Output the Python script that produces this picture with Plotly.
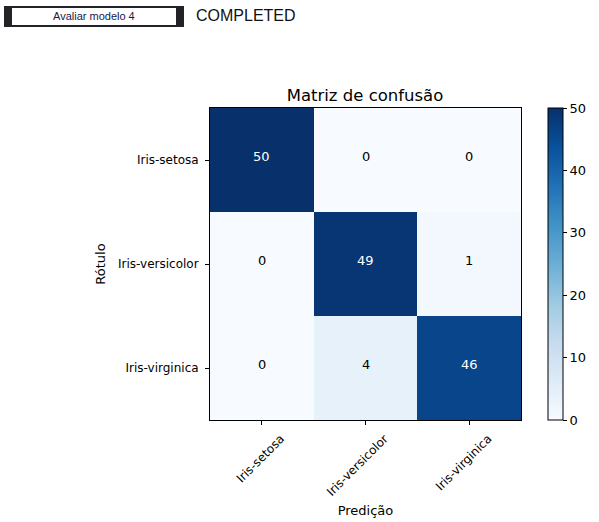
import plotly.graph_objects as go

labels = ["Iris-setosa", "Iris-versicolor", "Iris-virginica"]
matrix = [[50, 0, 0],
          [0, 49, 1],
          [0, 4, 46]]

W, H = 599, 522
L, R, T, B = 210, 521, 108, 420

def px(x):
    return (x - L) / (R - L)

def py(y):
    return (B - y) / (B - T)

fig = go.Figure(go.Heatmap(
    z=matrix, x=labels, y=labels,
    colorscale="Blues", zmin=0, zmax=50,
    xgap=0, ygap=0,
    colorbar=dict(
        thickness=15, len=1, lenmode="fraction", y=0.5, yanchor="middle",
        x=px(548), xanchor="left",
        outlinewidth=1, outlinecolor="black",
        ticks="outside", ticklen=4, tickcolor="black",
        tickvals=[0, 10, 20, 30, 40, 50],
        tickfont=dict(family="DejaVu Sans", size=13, color="black"),
        xpad=0, ypad=0,
    ),
    hoverinfo="skip",
))

annotations = []
thresh = 25
for i, row in enumerate(matrix):
    for j, v in enumerate(row):
        annotations.append(dict(
            x=labels[j], y=labels[i], text=str(v), showarrow=False,
            font=dict(family="DejaVu Sans", size=13,
                      color="white" if v > thresh else "black"),
            yshift=4,
        ))

annotations.append(dict(
    xref="paper", yref="paper", x=px(94), y=py(16.5), text="Avaliar modelo 4",
    showarrow=False, font=dict(family="Liberation Sans", size=11, color="#1a1a4a"),
    xanchor="center", yanchor="middle",
))
annotations.append(dict(
    xref="paper", yref="paper", x=px(194), y=py(16), text="COMPLETED",
    showarrow=False, font=dict(family="Liberation Sans", size=16, color="#111111"),
    xanchor="left", yanchor="middle",
))

shapes = [
    dict(type="rect", xref="paper", yref="paper", x0=px(4), x1=px(184), y0=py(27), y1=py(6),
         fillcolor="#212327", line=dict(width=0), layer="above"),
    dict(type="rect", xref="paper", yref="paper", x0=px(12), x1=px(176), y0=py(25), y1=py(8),
         fillcolor="white", line=dict(width=0), layer="above"),
]

fig.update_layout(
    width=W, height=H,
    margin=dict(l=L, r=W - R, t=T, b=H - B, pad=0, autoexpand=False),
    paper_bgcolor="white", plot_bgcolor="white",
    font=dict(family="DejaVu Sans", size=13, color="black"),
    title=dict(text="Matriz de confusão", xref="paper", x=px(365), xanchor="center",
               y=1 - 95 / H, yanchor="middle",
               font=dict(family="DejaVu Sans", size=16.5, color="black")),
    xaxis=dict(
        automargin=False,
        tickangle=-45, ticks="outside", ticklen=4, tickcolor="black",
        showline=True, linecolor="black", linewidth=1, mirror=True,
        showgrid=False, zeroline=False,
        ticklabelshift=19, ticklabelstandoff=2,
        title=dict(text="Predição", font=dict(size=13), standoff=8),
        tickfont=dict(size=12),
    ),
    yaxis=dict(
        automargin=False,
        autorange="reversed", ticks="outside", ticklen=4, tickcolor="black",
        showline=True, linecolor="black", linewidth=1, mirror=True,
        showgrid=False, zeroline=False,
        ticklabelstandoff=4,
        title=dict(text="Rótulo", font=dict(size=13), standoff=9),
        tickfont=dict(size=12),
    ),
    annotations=annotations,
    shapes=shapes,
)

fig.write_html("out.html", config={"displayModeBar": False},
               post_script="document.body.style.margin='0';")
